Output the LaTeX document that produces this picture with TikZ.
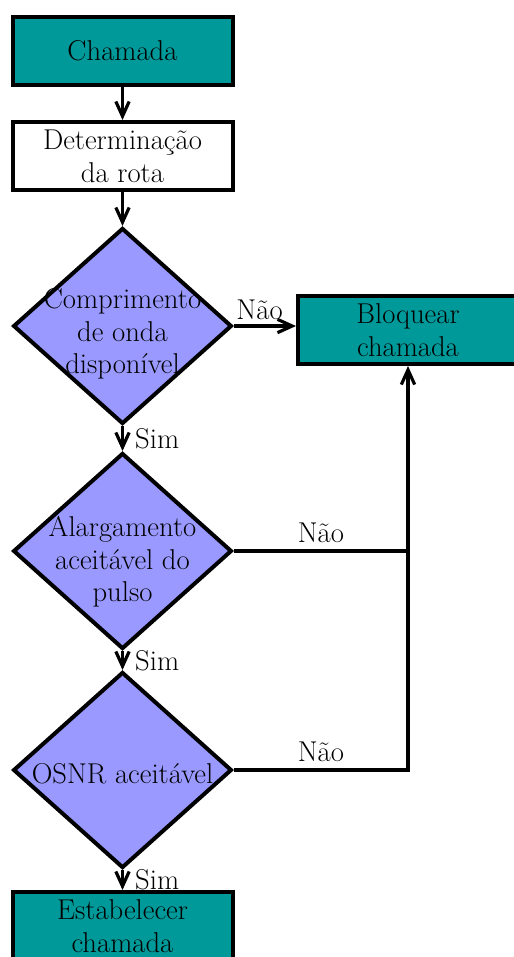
\documentclass[tikz,border=0pt]{standalone}
\usetikzlibrary{arrows.meta,shapes.geometric}

\definecolor{callteal}{RGB}{0,153,153}
\definecolor{testblue}{RGB}{153,153,255}

\begin{document}
\begin{tikzpicture}[x=0.75pt, y=-0.75pt, line join=miter,
    font=\fontsize{21.5}{24.5}\selectfont,
    box/.style={draw, line width=3pt, minimum width=165pt, minimum height=51pt,
        inner sep=0pt, align=center},
    decision/.style={draw, diamond, line width=3pt, fill=testblue,
        minimum width=164pt, minimum height=147pt, inner sep=0pt},
    flow/.style={line width=2.4pt, -{Straight Barb[length=11pt,width=10pt]}}]

\useasboundingbox (0,0) rectangle (514,957);

% Boxes ---------------------------------------------
\node[box, fill=callteal] (chamada) at (122.5,50.5) {Chamada};
\node[box] (rota) at (122.5,156) {Determinação\\da rota};
\node[box, fill=callteal] (bloquear) at (408,330) {Bloquear\\chamada};
\node[box, fill=callteal] (estabelecer) at (122.5,926) {Estabelecer\\chamada};

% Decisions -----------------------------------------
\node[decision] (d1) at (122.5,326) {};
\node[align=center] (d1_text) at ([yshift=-6pt]d1) {Comprimento\\de onda\\disponível};

\node[decision] (d2) at (122.5,551) {};
\node[align=center] (d2_text) at ([yshift=-8pt]d2) {Alargamento\\aceitável do\\pulso};

\node[decision] (d3) at (122.5,770) {};
\node (d3_text) at ([yshift=-3pt]d3) {OSNR aceitável};

% Main flow -----------------------------------------
\draw[flow] (chamada) -- (rota);
\draw[flow] (rota) -- (d1);
\draw[flow] (d1) -- (d2) node[midway, right, xshift=5pt] {Sim};
\draw[flow] (d2) -- (d3) node[midway, right, xshift=5pt] {Sim};
\draw[flow] (d3) -- (estabelecer) node[midway, right, xshift=5pt] {Sim};

% Blocking branches ---------------------------------
\draw[flow] (d1.east) -- (d1.east -| bloquear.west)
    node[midway, above, xshift=-4pt] {Não};
\draw[line width=2.4pt] (d2.east) -- (d2.east -| bloquear.south)
    node[midway, above, yshift=2pt] {Não};
\draw[flow] (d3.east) -- (d3.east -| bloquear.south)
    node[midway, above, yshift=2pt] {Não} -- (bloquear.south);

\end{tikzpicture}
\end{document}
